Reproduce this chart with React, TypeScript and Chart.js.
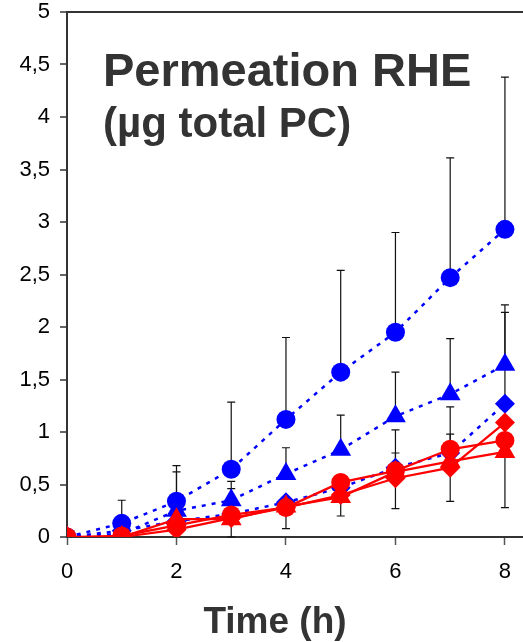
import React, { useEffect, useRef } from "react";
import { Chart, registerables } from "chart.js";

Chart.register(...registerables);

const times = [0, 1, 2, 3, 4, 5, 6, 7, 8];
const xTickLabels = ["0", "2", "4", "6", "8"];
const yTickLabels = ["0", "0,5", "1", "1,5", "2", "2,5", "3", "3,5", "4", "4,5", "5"];

const blueCircle = [0, 0.13, 0.34, 0.645, 1.12, 1.57, 1.95, 2.47, 2.93];
const blueCirclePlus = [0, 0.22, 0.34, 0.64, 0.78, 0.97, 0.95, 1.14, 1.45];
const blueTriangle = [0, 0.03, 0.25, 0.35, 0.6, 0.83, 1.15, 1.36, 1.64];
const blueTrianglePlus = [0, 0, 0.37, 0.18, 0.25, 0.33, 0.42, 0.53, 0.57];
const blueDiamond = [0, 0.06, 0.15, 0.22, 0.33, 0.47, 0.66, 0.8, 1.27];
const blueDiamondPlus = [0, 0, 0, 0.24, 0, 0, 0.36, 0.44, 0.87];
const redCircle = [0, 0.01, 0.11, 0.21, 0.28, 0.52, 0.63, 0.835, 0.92];
const redCirclePlus = [0, 0, 0, 0, 0, 0, 0.17, 0.145, 0];
const redDiamond = [0, 0, 0.07, 0.18, 0.28, 0.4, 0.56, 0.66, 1.09];
const redDiamondMinus = [0, 0, 0, 0.18, 0.2, 0.2, 0.29, 0.32, 0.81];
const redTriangle = [0, 0, 0.17, 0.17, 0.29, 0.38, 0.62, 0.72, 0.81];

const titleLine1 = "Permeation RHE";
const titleLine2 = "(µg total PC)";
const xAxisTitle = "Time (h)";

const BLUE = "#0000ff";
const RED = "#ff0000";
const FONT = "'Liberation Sans', Arial, sans-serif";

const toPoints = (vals: number[]) => vals.map((v, i) => ({ x: times[i], y: v }));

const errorBarPlugin = {
  id: "errorBars",
  beforeDatasetsDraw(chart: any) {
    const ctx = chart.ctx;
    const yScale = chart.scales.y;
    ctx.save();
    ctx.strokeStyle = "#111";
    ctx.lineWidth = 1.2;
    chart.data.datasets.forEach((ds: any, di: number) => {
      const meta = chart.getDatasetMeta(di);
      const plus: number[] | undefined = ds.errPlus;
      const minus: number[] | undefined = ds.errMinus;
      meta.data.forEach((pt: any, i: number) => {
        const v = ds.data[i].y;
        const segs: number[] = [];
        if (plus && plus[i] > 0) segs.push(v + plus[i]);
        if (minus && minus[i] > 0) segs.push(v - minus[i]);
        segs.forEach((end) => {
          const y0 = yScale.getPixelForValue(v);
          const y1 = yScale.getPixelForValue(end);
          ctx.beginPath();
          ctx.moveTo(pt.x, y0);
          ctx.lineTo(pt.x, y1);
          ctx.moveTo(pt.x - 4, y1);
          ctx.lineTo(pt.x + 4, y1);
          ctx.stroke();
        });
      });
    });
    ctx.restore();
  },
};

const textPlugin = {
  id: "texts",
  afterDraw(chart: any) {
    const ctx = chart.ctx;
    const area = chart.chartArea;
    ctx.save();
    ctx.fillStyle = "#333";
    ctx.textAlign = "left";
    ctx.textBaseline = "alphabetic";
    ctx.font = `bold 47px ${FONT}`;
    ctx.fillText(titleLine1, area.left + 36, area.top + 74);
    ctx.font = `bold 42px ${FONT}`;
    ctx.fillText(titleLine2, area.left + 36, area.top + 125);
    ctx.font = `bold 37px ${FONT}`;
    ctx.textAlign = "center";
    ctx.fillText(xAxisTitle, 275, chart.height - 9);
    ctx.restore();
  },
};

export default function App() {
  const ref = useRef<HTMLCanvasElement>(null);
  useEffect(() => {
    document.body.style.margin = "0";
    const canvas = ref.current!;
    const blueCommon = {
      borderColor: BLUE,
      backgroundColor: BLUE,
      borderWidth: 2.5,
      borderDash: [4, 6],
      pointBorderWidth: 0,
      pointBackgroundColor: BLUE,
      showLine: true,
      tension: 0,
    };
    const redCommon = {
      borderColor: RED,
      backgroundColor: RED,
      borderWidth: 2.2,
      pointBorderWidth: 0,
      pointBackgroundColor: RED,
      showLine: true,
      tension: 0,
    };
    const chart = new Chart(canvas, {
      type: "scatter",
      data: {
        datasets: [
          { ...redCommon, label: "red circle", data: toPoints(redCircle), pointStyle: "circle", pointRadius: 9.5, errPlus: redCirclePlus } as any,
          { ...redCommon, label: "red diamond", data: toPoints(redDiamond), pointStyle: "rectRot", pointRadius: 10, errMinus: redDiamondMinus } as any,
          { ...redCommon, label: "red triangle", data: toPoints(redTriangle), pointStyle: "triangle", pointRadius: 12 } as any,
          { ...blueCommon, label: "blue circle", data: toPoints(blueCircle), pointStyle: "circle", pointRadius: 9.5, errPlus: blueCirclePlus } as any,
          { ...blueCommon, label: "blue triangle", data: toPoints(blueTriangle), pointStyle: "triangle", pointRadius: 12, errPlus: blueTrianglePlus } as any,
          { ...blueCommon, label: "blue diamond", data: toPoints(blueDiamond), pointStyle: "rectRot", pointRadius: 10, errPlus: blueDiamondPlus } as any,
        ],
      },
      options: {
        responsive: false,
        animation: false,
        layout: { autoPadding: false, padding: { top: 12, right: 0, left: 0, bottom: 0 } },
        plugins: { legend: { display: false }, tooltip: { enabled: false } },
        scales: {
          x: {
            type: "linear",
            min: 0,
            max: 8.33,
            afterFit: (s: any) => {
              s.height = 105;
              s.paddingLeft = 0;
              s.paddingRight = 0;
            },
            border: { display: true, color: "#333", width: 2 },
            grid: { drawOnChartArea: false, drawTicks: true, tickLength: 8, tickColor: "#555", tickWidth: 1.5 },
            ticks: {
              stepSize: 2,
              includeBounds: false,
              padding: 14,
              color: "#000",
              font: { family: FONT, size: 22 },
              maxRotation: 0,
              callback: (v: any) => {
                const i = times.filter((t) => t % 2 === 0).indexOf(Number(v));
                return i >= 0 ? xTickLabels[i] : "";
              },
            },
          },
          y: {
            type: "linear",
            min: 0,
            max: 5,
            afterFit: (s: any) => {
              s.width = 67;
              s.paddingTop = 0;
              s.paddingBottom = 0;
            },
            border: { display: true, color: "#333", width: 2 },
            grid: {
              drawTicks: true,
              tickLength: 7,
              tickColor: "#333",
              tickWidth: 1.5,
              lineWidth: 2,
              color: (c: any) => (c.tick && c.tick.value === 5 ? "#333" : "rgba(0,0,0,0)"),
            },
            ticks: {
              stepSize: 0.5,
              padding: 10,
              color: "#000",
              font: { family: FONT, size: 22 },
              callback: (v: any) => yTickLabels[Math.round(Number(v) * 2)] ?? "",
            },
          },
        },
      },
      plugins: [errorBarPlugin, textPlugin],
    });
    return () => chart.destroy();
  }, []);
  return <canvas ref={ref} width={523} height={642} style={{ display: "block" }} />;
}
